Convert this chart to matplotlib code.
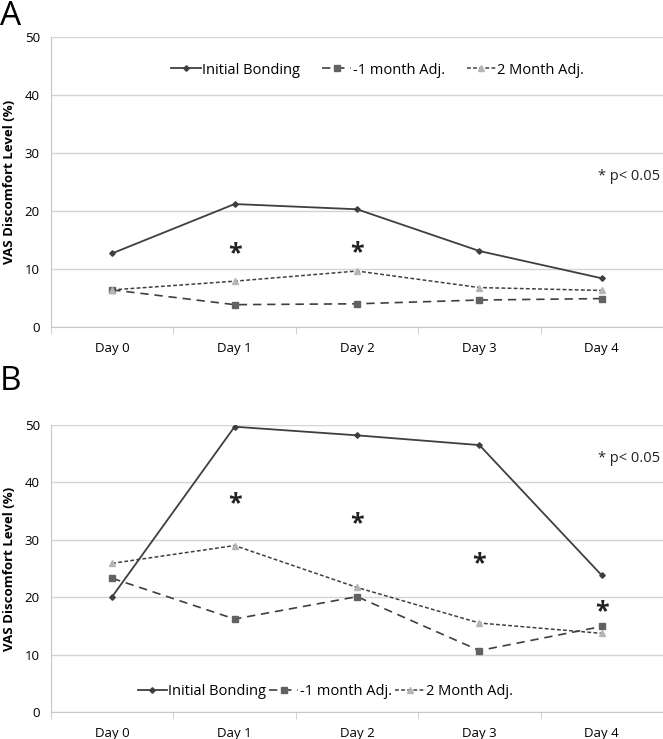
import matplotlib
matplotlib.use("Agg")
import matplotlib.pyplot as plt
from matplotlib.ticker import FixedLocator

plt.rcParams['font.family'] = ['Open Sans', 'DejaVu Sans']

days = ["Day 0", "Day 1", "Day 2", "Day 3", "Day 4"]
series_names = ["Initial Bonding", "1 month Adj.", "2 Month Adj."]

a_initial = [12.7, 21.2, 20.3, 13.1, 8.4]
a_month1 = [6.4, 3.85, 4.0, 4.65, 4.9]
a_month2 = [6.4, 7.9, 9.65, 6.8, 6.3]
a_stars_x = [1, 2]
a_stars_y = [13.7, 13.9]

b_initial = [20.1, 49.7, 48.2, 46.5, 23.8]
b_month1 = [23.3, 16.2, 20.1, 10.7, 14.9]
b_month2 = [25.9, 29.0, 21.7, 15.5, 13.7]
b_stars_x = [1, 2, 3, 4]
b_stars_y = [37.3, 33.9, 26.9, 18.5]

W, H = 663, 739
fig = plt.figure(figsize=(W / 100, H / 100), dpi=100)

def add_ax(left, top, right, bottom):
    return fig.add_axes([left / W, 1 - bottom / H, (right - left) / W, (bottom - top) / H])

axA = add_ax(51, 37, 663, 327)
axB = add_ax(51, 425, 663, 712)

line_col = '#3f3f3f'

def draw(ax, init, m1, m2, sx, sy, leg_anchor, colspace, ptext_y):
    x = range(len(days))
    ax.plot(x, init, color=line_col, lw=1.3, marker='D', ms=2.8, mfc='#3f3f3f', mec='#3f3f3f',
            label=series_names[0], zorder=3)
    ax.plot(x, m1, color=line_col, lw=1.2, ls=(0, (5, 3.5)), marker='s', ms=4.5, mfc='#626262', mec='#626262',
            label="-" + series_names[1], zorder=3)
    ax.plot(x, m2, color=line_col, lw=1.1, ls=(0, (2.5, 1.5)), marker='^', ms=4.5, mfc='#b5b5b5', mec='#b5b5b5',
            label=series_names[2], zorder=3)
    for xs, ys in zip(sx, sy):
        ax.annotate("*", (xs, ys), xytext=(0, -4.5), textcoords='offset points',
                    fontsize=18, fontweight='bold', ha='center', va='center', color='#222222')
    ax.text(3.97, ptext_y, "* p< 0.05", fontsize=10.5, ha='left', va='center', color='#222222')
    ax.set_xlim(-0.5, 4.5)
    ax.set_ylim(0, 50)
    ax.set_yticks([0, 10, 20, 30, 40, 50])
    ax.yaxis.grid(True, color='#d4d4d4', lw=1)
    ax.set_axisbelow(True)
    ax.set_xticks(list(x))
    ax.set_xticklabels(days, fontsize=9.5)
    ax.xaxis.set_minor_locator(FixedLocator([-0.5, 0.5, 1.5, 2.5, 3.5, 4.5]))
    ax.tick_params(axis='x', which='major', length=0, pad=11)
    ax.tick_params(axis='x', which='minor', length=5, color='#c8c8c8', direction='out')
    ax.tick_params(axis='y', length=0, labelsize=9.5, pad=8)
    for s in ['top', 'right']:
        ax.spines[s].set_visible(False)
    ax.spines['left'].set_color('#c8c8c8')
    ax.spines['bottom'].set_color('#c8c8c8')
    ax.set_ylabel("VAS Discomfort Level (%)", fontsize=9.5, fontweight='bold', labelpad=6)
    ax.legend(loc='center', bbox_to_anchor=leg_anchor, ncol=3, frameon=False, fontsize=10.5,
              handlelength=2.0, handletextpad=0.1, columnspacing=colspace, borderaxespad=0)

draw(axA, a_initial, a_month1, a_month2, a_stars_x, a_stars_y, (0.534, 0.886), 1.5, 26.0)
draw(axB, b_initial, b_month1, b_month2, b_stars_x, b_stars_y, (0.448, 0.07), 0.2, 44.2)

fig.text(0 / W, 1 - 0 / H, "A", fontsize=24, ha='left', va='top')
fig.text(0 / W, 1 - 381 / H, "B", fontsize=24, ha='left', va='center')

fig.savefig("out.png", dpi=100)
